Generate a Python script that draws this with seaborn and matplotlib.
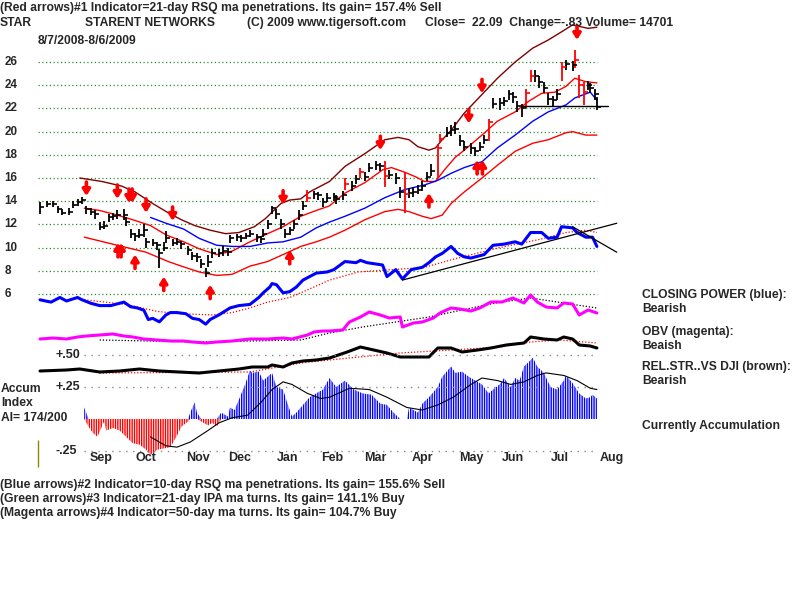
import numpy as np
import matplotlib
matplotlib.use("Agg")
import matplotlib.pyplot as plt
import seaborn as sns

# -----------------------------
# DATA (x = trading day index from 8/7/2008)
# -----------------------------
bar_day = [0, 3, 6, 8, 10, 13, 15, 17, 19, 21,
           23, 25, 27, 29, 31, 33, 35, 38, 39, 41,
           43, 45, 47, 48, 51, 53, 54, 56, 57, 60,
           62, 64, 67, 69, 71, 73, 75, 76, 78, 81,
           83, 85, 86, 89, 91, 93, 95, 98, 100, 101,
           103, 105, 107, 109, 111, 113, 115, 117, 119, 121,
           124, 126, 128, 130, 133, 134, 137, 138, 141, 143,
           145, 147, 149, 152, 154, 156, 158, 161, 163, 165,
           167, 169, 171, 173, 175, 177, 180, 181, 184, 186,
           188, 190, 192, 195, 197, 199, 201, 203, 205, 208,
           210, 212, 214, 216, 218, 220, 222, 224, 226, 228,
           230, 232, 234, 236, 238, 241, 242, 244, 246, 248,
           249, 251, 252]
bar_close = [13.5, 13.8, 13.8, 13.3, 13.0, 13.1, 13.7, 13.9, 14.1, 13.3,
             13.1, 12.9, 11.8, 11.9, 12.6, 12.7, 12.8, 12.8, 12.2, 11.2,
             11.0, 11.1, 11.5, 10.5, 10.4, 10.2, 9.5, 10.0, 10.8, 10.4,
             10.5, 10.3, 9.8, 9.3, 9.2, 8.6, 7.8, 8.8, 9.5, 9.5,
             9.7, 9.6, 10.8, 10.9, 10.8, 11.0, 11.2, 10.9, 10.7, 11.2,
             12.0, 13.4, 12.9, 12.0, 11.2, 11.5, 12.0, 12.8, 13.6, 14.3,
             14.6, 14.5, 13.9, 14.3, 14.4, 14.2, 14.5, 15.5, 15.3, 15.9,
             16.5, 16.1, 16.9, 17.1, 17.0, 16.2, 16.3, 16.0, 14.8, 14.6,
             14.7, 14.8, 15.0, 15.3, 16.1, 16.6, 18.6, 19.4, 19.9, 20.1,
             20.2, 19.2, 18.7, 18.6, 18.3, 18.7, 19.3, 20.8, 22.4, 22.5,
             22.6, 23.2, 23.0, 22.2, 22.0, 23.3, 24.8, 24.8, 24.3, 23.8,
             22.8, 22.7, 23.2, 25.6, 25.8, 25.7, 26.2, 24.0, 23.4, 24.0,
             23.8, 23.2, 22.1]
bar_low = [12.9, 13.5, 13.5, 13.0, 12.8, 12.8, 13.4, 13.6, 13.8, 12.9,
           12.8, 12.5, 11.5, 11.6, 12.2, 12.4, 12.5, 12.4, 11.9, 10.8,
           10.6, 10.8, 10.9, 10.0, 10.1, 9.8, 8.2, 9.7, 10.4, 10.1,
           10.2, 9.9, 9.4, 8.9, 8.8, 8.2, 7.5, 8.3, 9.1, 9.2,
           9.3, 9.3, 10.4, 10.6, 10.5, 10.7, 10.9, 10.5, 10.4, 10.9,
           11.6, 12.9, 12.5, 11.6, 10.8, 11.1, 11.6, 12.4, 13.2, 13.9,
           14.2, 14.1, 13.5, 13.9, 14.0, 13.8, 14.1, 15.0, 14.9, 15.5,
           16.0, 15.7, 16.5, 16.7, 16.6, 15.2, 15.9, 15.5, 14.3, 13.0,
           14.3, 14.4, 14.6, 14.9, 15.7, 16.2, 16.0, 19.0, 19.5, 19.6,
           19.8, 18.8, 18.3, 18.1, 17.9, 18.3, 18.9, 19.2, 22.0, 21.9,
           22.2, 22.7, 22.5, 21.7, 21.3, 22.0, 24.3, 24.3, 23.8, 23.3,
           22.3, 22.2, 22.7, 24.4, 25.3, 25.2, 25.5, 22.9, 22.3, 23.6,
           23.3, 22.7, 21.9]
bar_high = [13.9, 14.0, 14.0, 13.6, 13.3, 13.4, 14.0, 14.2, 14.4, 13.6,
            13.4, 13.2, 12.2, 12.3, 12.9, 13.0, 13.2, 13.3, 12.6, 11.6,
            11.3, 11.6, 12.0, 10.8, 10.7, 10.5, 9.9, 10.5, 11.4, 10.7,
            10.8, 10.6, 10.1, 9.6, 9.5, 9.0, 8.2, 9.4, 9.9, 9.9,
            10.1, 10.0, 11.1, 11.2, 11.1, 11.3, 11.5, 11.2, 11.0, 11.6,
            12.4, 13.6, 13.3, 12.5, 11.6, 11.8, 12.4, 13.2, 14.0, 15.0,
            14.9, 14.8, 14.3, 14.7, 14.7, 14.5, 14.9, 16.0, 15.7, 16.3,
            16.9, 16.5, 17.3, 17.5, 17.3, 17.5, 16.7, 16.4, 15.2, 16.5,
            15.1, 15.2, 15.4, 15.7, 16.5, 17.2, 18.9, 19.8, 20.4, 20.6,
            20.8, 19.7, 19.2, 19.0, 18.7, 19.1, 19.7, 21.1, 22.9, 22.9,
            23.0, 23.6, 23.4, 22.6, 22.4, 23.7, 25.3, 25.3, 24.8, 24.3,
            23.3, 23.1, 23.7, 26.0, 26.2, 26.1, 27.0, 24.9, 24.3, 24.4,
            24.2, 23.7, 23.0]
red_bar_days = [121, 138, 145, 156, 165, 180, 181, 203, 220, 222, 236, 242, 244, 246]

# bands around price
upper_day = [18, 28, 37, 43, 51, 58, 64, 70, 77, 84, 90, 97, 102, 109, 113, 118, 122, 131, 138,
             147, 156, 162, 167, 171, 176, 179, 182, 186, 192, 200, 207, 215, 223, 230, 236, 241, 248, 252]
upper_val = [16.0, 15.7, 15.3, 14.8, 13.8, 13.0, 12.4, 11.9, 11.5, 11.2, 11.3, 11.8, 12.5, 13.8, 14.1, 14.2,
             14.8, 15.7, 17.0, 18.1, 19.3, 19.5, 19.3, 18.7, 18.4, 18.6, 19.3, 20.1, 21.6, 23.2, 24.6, 26.0,
             27.2, 27.9, 28.6, 29.2, 28.9, 29.0]
mid_day = [20, 27, 35, 42, 50, 57, 65, 72, 80, 87, 95, 103, 110, 118, 125, 131, 138, 147, 155, 159,
           165, 170, 174, 179, 183, 188, 192, 200, 207, 215, 221, 227, 233, 238, 242, 247, 252]
mid_val = [13.4, 13.2, 12.8, 12.4, 11.9, 11.1, 10.5, 9.9, 9.4, 9.7, 10.5, 11.2, 11.8, 12.7, 13.2, 13.6,
           14.7, 15.6, 16.7, 16.9, 16.5, 16.1, 15.7, 15.7, 16.7, 17.8, 18.4, 19.7, 20.9, 21.7, 22.6, 23.3,
           23.4, 23.9, 24.6, 24.3, 24.2]
ma50_day = [50, 57, 65, 72, 80, 87, 95, 103, 110, 118, 125, 131, 138, 147, 156, 165, 174, 180, 186,
            192, 200, 207, 215, 223, 230, 238, 242, 249, 252]
ma50_val = [12.6, 12.1, 11.6, 10.8, 10.2, 10.1, 10.1, 10.4, 10.5, 10.9, 11.7, 12.2, 12.7, 13.4, 14.3,
            15.0, 15.4, 15.8, 16.4, 16.9, 17.4, 18.6, 19.7, 20.9, 21.7, 22.3, 22.9, 23.4, 22.7]
lower_day = [20, 35, 48, 58, 64, 72, 80, 87, 95, 103, 110, 118, 125, 131, 138, 147, 156, 162, 167,
             173, 177, 182, 186, 192, 200, 207, 215, 223, 230, 238, 241, 247, 252]
lower_val = [10.9, 10.2, 9.6, 8.8, 8.4, 7.9, 7.6, 7.7, 8.4, 8.8, 9.4, 10.1, 10.5, 10.9, 11.5, 12.4,
             13.1, 13.3, 13.1, 12.7, 12.5, 12.8, 13.8, 14.8, 16.0, 17.1, 18.3, 19.0, 19.3, 19.9, 20.0,
             19.7, 19.7]

# signal arrows (day, price at arrow tip)
sell_day = [21, 35, 40.3, 41.7, 48, 60, 110, 154, 194, 200, 243]
sell_tip = [14.45, 14.2, 13.85, 13.85, 13.0, 12.3, 13.7, 18.4, 20.7, 23.3, 27.9]
buy_day = [35.3, 36.7, 43, 56, 77, 113, 176, 197.8, 200.2]
buy_tip = [10.4, 10.4, 9.4, 7.5, 6.8, 9.8, 14.7, 17.55, 17.55]

# closing power (drawn on the price scale) and its ma
cp_day = [0, 5, 9, 12, 17, 19, 23, 27, 32, 34, 38, 41, 44, 47, 49, 51, 54, 57, 59, 62, 66, 69, 72,
          75, 77, 81, 86, 90, 95, 99, 101, 104, 105, 107, 110, 113, 116, 119, 122, 125, 130, 133, 138,
          143, 145, 148, 155, 157, 161, 164, 168, 173, 176, 179, 182, 186, 189, 192, 195, 201, 205,
          210, 215, 218, 222, 227, 230, 234, 236, 241, 243, 247, 250, 252]
cp_val = [5.5, 5.3, 5.7, 5.4, 5.7, 5.5, 5.2, 5.0, 5.0, 5.1, 5.3, 4.9, 4.8, 4.6, 3.8, 3.9, 3.6, 4.2,
          4.4, 4.4, 4.3, 3.9, 3.8, 3.4, 3.8, 4.2, 4.8, 5.0, 5.1, 5.7, 6.1, 6.6, 6.9, 6.8, 6.1, 6.2, 6.6,
          7.2, 7.5, 7.8, 7.9, 8.1, 8.8, 8.7, 8.9, 8.7, 8.5, 7.5, 8.1, 7.3, 8.1, 8.3, 8.7, 9.2, 9.5, 10.1,
          9.5, 9.2, 9.1, 9.4, 10.2, 10.3, 10.5, 10.3, 11.3, 11.3, 10.8, 10.9, 11.8, 11.7, 11.3, 10.9,
          10.9, 10.1]
cp_ma_day = [20, 39, 53, 63, 78, 87, 95, 103, 113, 118, 131, 144, 159, 174, 189, 208, 226, 238, 247, 252]
cp_ma_val = [5.5, 5.1, 4.5, 4.3, 4.2, 4.4, 4.8, 5.3, 5.7, 6.1, 7.2, 7.9, 8.1, 8.3, 9.1, 10.0, 10.7,
             11.3, 11.5, 11.3]
trend_up_day = [164, 261]
trend_up_val = [7.2, 12.1]
trend_dn_day = [241, 261]
trend_dn_val = [11.8, 9.6]
support_day = [218, 257]
support_val = [22.2, 22.2]

# OBV and relative strength (relative units)
obv_day = [0, 6, 12, 17, 21, 27, 33, 38, 42, 47, 53, 59, 65, 69, 75, 80, 87, 95, 103, 110, 114, 121,
           124, 128, 131, 137, 140, 145, 149, 154, 158, 163, 164, 169, 173, 178, 181, 186, 190, 195,
           199, 204, 209, 214, 219, 222, 225, 229, 234, 237, 241, 244, 248, 252]
obv_val = [6.1, 6.2, 6.1, 6.3, 6.4, 6.5, 6.6, 6.4, 6.3, 6.1, 6.0, 5.9, 5.9, 5.8, 5.7, 5.8, 5.9, 6.1,
           6.1, 6.2, 6.1, 6.5, 6.8, 6.9, 6.9, 7.0, 7.8, 8.3, 8.8, 8.5, 8.2, 8.3, 7.3, 7.7, 7.8, 8.2, 8.7,
           9.2, 9.1, 8.9, 9.2, 9.8, 9.8, 10.2, 9.7, 10.5, 9.8, 9.3, 9.2, 9.7, 9.6, 8.5, 9.0, 8.7]
obv_ma_day = [27, 72, 118, 131, 146, 161, 176, 191, 206, 222, 237, 252]
obv_ma_val = [6.0, 5.8, 6.0, 6.7, 7.3, 7.8, 8.3, 9.0, 9.7, 10.2, 9.7, 9.2]
rs_day = [0, 12, 18, 27, 36, 45, 54, 63, 72, 81, 90, 96, 103, 105, 110, 114, 119, 125, 131, 139, 145,
          151, 157, 163, 169, 176, 180, 186, 191, 198, 204, 211, 219, 222, 228, 234, 237, 241, 244, 249, 252]
rs_val = [2.9, 3.0, 3.1, 2.8, 2.9, 3.1, 2.9, 2.8, 2.7, 2.9, 3.1, 3.3, 3.3, 3.5, 3.3, 3.7, 3.9, 4.0,
          4.2, 4.8, 5.3, 5.0, 4.7, 4.3, 4.3, 4.3, 5.2, 5.2, 4.8, 5.0, 5.2, 5.5, 5.7, 6.3, 6.1, 6.0, 6.3,
          6.1, 5.5, 5.4, 5.2]
rs_ma_day = [27, 95, 118, 131, 149, 163, 186, 208, 222, 235, 252]
rs_ma_val = [2.7, 2.8, 3.7, 4.0, 4.4, 4.7, 5.0, 5.3, 5.8, 6.0, 5.7]

# accumulation index
ai_day = [20, 22, 24, 26, 27, 29, 30, 33, 36, 39, 42, 45, 48, 50, 53, 56, 59, 62, 64, 67, 68, 70, 71,
          73, 76, 78, 80, 82, 85, 86, 88, 90, 93, 95, 96, 99, 101, 103, 105, 107, 110, 112, 114, 116,
          119, 122, 125, 128, 131, 134, 138, 142, 146, 150, 154, 157, 160, 163, 166, 167, 171, 173,
          176, 180, 182, 186, 188, 191, 194, 198, 200, 203, 205, 208, 210, 213, 215, 217, 219, 222,
          223, 225, 228, 231, 234, 237, 238, 241, 244, 247, 249, 250, 252]
ai_val = [0.09, -0.06, -0.11, -0.14, -0.10, -0.02, -0.09, -0.07, -0.09, -0.14, -0.19, -0.20, -0.24,
          -0.28, -0.24, -0.23, -0.22, -0.13, -0.06, -0.02, 0.05, 0.13, 0.05, -0.02, -0.05, -0.03, -0.06,
          0.05, 0.02, 0.09, 0.07, 0.15, 0.28, 0.38, 0.36, 0.37, 0.30, 0.33, 0.36, 0.25, 0.23, 0.12, 0.02,
          0.05, 0.11, 0.17, 0.20, 0.23, 0.32, 0.25, 0.30, 0.23, 0.20, 0.19, 0.12, 0.11, 0.05, 0.0, 0.0,
          0.09, 0.05, 0.12, 0.17, 0.25, 0.33, 0.41, 0.36, 0.37, 0.33, 0.29, 0.27, 0.20, 0.23, 0.27, 0.32,
          0.25, 0.32, 0.30, 0.41, 0.46, 0.48, 0.41, 0.36, 0.25, 0.23, 0.30, 0.34, 0.28, 0.20, 0.16, 0.17,
          0.19, 0.16]
ai_ma_day = [50, 57, 62, 68, 76, 81, 87, 94, 100, 105, 110, 114, 121, 127, 131, 140, 149, 157, 166,
             173, 180, 187, 195, 200, 207, 213, 219, 225, 229, 237, 243, 249, 252]
ai_ma_val = [-0.14, -0.21, -0.22, -0.18, -0.09, -0.03, 0.01, 0.03, 0.13, 0.23, 0.29, 0.27, 0.20, 0.16,
             0.17, 0.24, 0.23, 0.17, 0.09, 0.07, 0.11, 0.17, 0.27, 0.32, 0.30, 0.27, 0.29, 0.34, 0.36,
             0.34, 0.30, 0.24, 0.23]

price_ticks = [26, 24, 22, 20, 18, 16, 14, 12, 10, 8, 6]
month_labels = ["Sep", "Oct", "Nov", "Dec", "Jan", "Feb", "Mar", "Apr", "May", "Jun", "Jul", "Aug"]
month_pos = [27.6, 48, 71.5, 90.5, 112.2, 132.1, 151.6, 172.9, 195, 214, 235.3, 258.8]

# -----------------------------
# STYLE / LAYOUT
# -----------------------------
sns.set_style("white")
plt.rcParams['font.family'] = ['Liberation Sans', 'DejaVu Sans']
plt.rcParams['font.weight'] = 'bold'
plt.rcParams['hatch.linewidth'] = 1.0

fig = plt.figure(figsize=(8, 6), dpi=100)
fig.patch.set_facecolor("white")
ax = fig.add_axes([0, 0, 1, 1])
ax_osc = fig.add_axes([0, 0, 1, 1], sharex=ax)
ax_ai = fig.add_axes([0, 0, 1, 1], sharex=ax)
for a in (ax, ax_osc, ax_ai):
    a.set_axis_off()
ax.set_xlim(-18.1, 343.9)
ax.set_ylim(-20.38, 31.345)
ax_osc.set_ylim(-20, 40)
ax_ai.set_ylim(-1.414, 3.273)

FS = 8.7

def ftext(x, y, s, **kw):
    fig.text(x / 800, 1 - y / 600, s, va="center", ha="left", fontsize=FS, fontweight="bold", **kw)

# -----------------------------
# PRICE PANEL
# -----------------------------
ax.hlines(price_ticks, -1, 252, colors="#2e8b2e", linestyles=(0, (1, 2)), lw=0.9)
for p in price_ticks:
    ax.text(-16.2, p, str(p), va="center", ha="left", fontsize=8.4, fontweight="bold")

sns.lineplot(x=upper_day, y=upper_val, ax=ax, color="#800000", lw=1)
sns.lineplot(x=mid_day, y=mid_val, ax=ax, color="#ff0000", lw=1)
sns.lineplot(x=ma50_day, y=ma50_val, ax=ax, color="#0000ff", lw=1)
sns.lineplot(x=lower_day, y=lower_val, ax=ax, color="#ff0000", lw=1)

bar_colors = ["#ff0000" if d in red_bar_days else "black" for d in bar_day]
ax.vlines(bar_day, bar_low, bar_high, colors=bar_colors, lw=1.3)
for d, c, col in zip(bar_day, bar_close, bar_colors):
    ax.plot([d], [c], marker=1, markersize=3, color=col, mew=1.2)
ax.plot(support_day, support_val, color="black", lw=1)

arrow_style = dict(arrowstyle="-|>,head_width=0.22,head_length=0.35",
                   color="#ff0000", lw=2.6, shrinkA=0, shrinkB=0)
for d, p in zip(sell_day, sell_tip):
    ax.annotate("", xy=(d, p), xytext=(d, p + 1.2), arrowprops=arrow_style)
for d, p in zip(buy_day, buy_tip):
    ax.annotate("", xy=(d, p), xytext=(d, p - 1.2), arrowprops=arrow_style)

# closing power
sns.lineplot(x=cp_ma_day, y=cp_ma_val, ax=ax, color="#ff0000", lw=0.9, linestyle=(0, (1, 1.5)))
sns.lineplot(x=cp_day, y=cp_val, ax=ax, color="#0000ff", lw=2.2)
ax.plot(trend_up_day, trend_up_val, color="black", lw=0.9)
ax.plot(trend_dn_day, trend_dn_val, color="black", lw=0.9)

# -----------------------------
# OBV / REL STR
# -----------------------------
sns.lineplot(x=obv_ma_day, y=obv_ma_val, ax=ax_osc, color="black", lw=0.9, linestyle=(0, (1, 1.5)))
sns.lineplot(x=obv_day, y=obv_val, ax=ax_osc, color="#ff00ff", lw=2.2)
sns.lineplot(x=rs_ma_day, y=rs_ma_val, ax=ax_osc, color="#ff0000", lw=0.9, linestyle=(0, (1, 1.5)))
sns.lineplot(x=rs_day, y=rs_val, ax=ax_osc, color="black", lw=2.2)

# -----------------------------
# ACCUMULATION INDEX
# -----------------------------
ai = np.array(ai_val)
ax_ai.hlines([0.5, 0.25, -0.25], 20, 252, colors="#888888", linestyles=(0, (1, 4)), lw=1)
ax_ai.fill_between(ai_day, 0, np.maximum(ai, 0), facecolor="none", edgecolor="#0000ff",
                   hatch="|||||||", linewidth=0)
ax_ai.fill_between(ai_day, 0, np.minimum(ai, 0), facecolor="none", edgecolor="#ff0000",
                   hatch="|||||||", linewidth=0)
sns.lineplot(x=ai_ma_day, y=ai_ma_val, ax=ax_ai, color="black", lw=0.8)
ax_ai.vlines(-1, -0.375, -0.164, colors="#8b8b00", lw=1)

for lab, yv in [("+.50", 0.5), ("+.25", 0.25), ("-.25", -0.25)]:
    ax_ai.text(6.8, yv, lab, va="center", ha="left", fontsize=9, fontweight="bold")
for lab, pos in zip(month_labels, month_pos):
    ax_ai.text(pos, -0.305, lab, va="center", ha="center", fontsize=9, fontweight="bold")

# -----------------------------
# TEXT
# -----------------------------
ftext(0, 8, "(Red arrows)#1 Indicator=21-day RSQ ma penetrations. Its gain= 157.4% Sell")
ftext(0, 23, "STAR")
ftext(85, 23, "STARENT NETWORKS")
ftext(247, 23, "(C) 2009 www.tigersoft.com")
ftext(425, 23, "Close=  22.09  Change=-.83 Volume= 14701")
ftext(38, 41, "8/7/2008-8/6/2009")

ftext(642, 295, "CLOSING POWER (blue):")
ftext(642, 309, "Bearish")
ftext(642, 332, "OBV (magenta):")
ftext(642, 346, "Beaish")
ftext(642, 367, "REL.STR..VS DJI (brown):")
ftext(642, 381, "Bearish")
ftext(642, 426, "Currently Accumulation")

ftext(1, 389, "Accum")
ftext(1, 403, "Index")
ftext(1, 418, "AI= 174/200")

ftext(0, 485, "(Blue arrows)#2 Indicator=10-day RSQ ma penetrations. Its gain= 155.6% Sell")
ftext(0, 499, "(Green arrows)#3 Indicator=21-day IPA ma turns. Its gain= 141.1% Buy")
ftext(0, 513, "(Magenta arrows)#4 Indicator=50-day ma turns. Its gain= 104.7% Buy")

fig.savefig("out.png", dpi=100)
